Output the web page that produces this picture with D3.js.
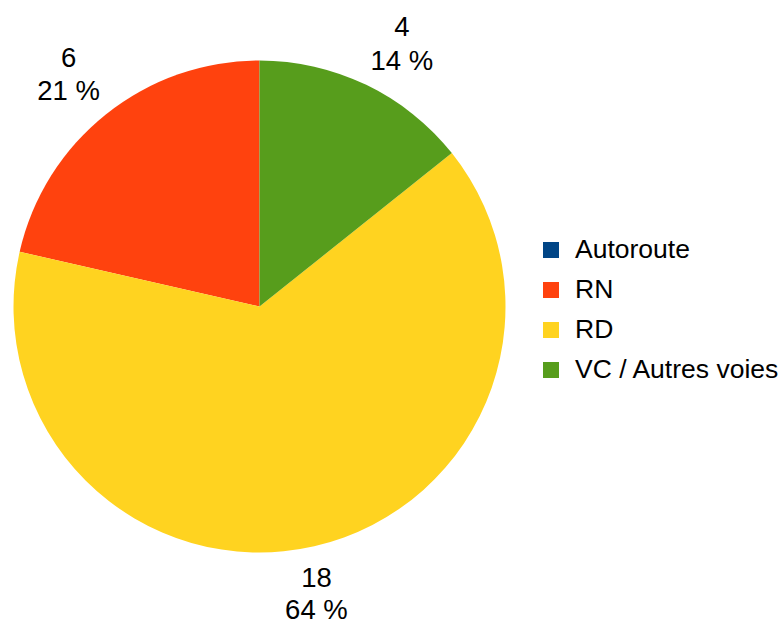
<!DOCTYPE html>
<html>
<head>
<meta charset="utf-8">
<script src="https://cdn.jsdelivr.net/npm/d3@7"></script>
<style>
  html, body { margin: 0; padding: 0; background: #ffffff; }
  svg { display: block; }
  text { font-family: "Liberation Sans", Arial, sans-serif; fill: #000; }
</style>
</head>
<body>
<svg id="chart" width="782" height="624"></svg>
<script>
const categories = ["Autoroute", "RN", "RD", "VC / Autres voies"];
const values = [0, 6, 18, 4];
const percentLabels = ["0 %", "21 %", "64 %", "14 %"];
const colors = ["#004586", "#ff420e", "#ffd320", "#579d1c"];

const W = 782, H = 624;
const cx = 259.5, cy = 306.5, radius = 246;
const labelFont = 27.5;
const legendFont = 26.5;

const svg = d3.select("#chart");
const g = svg.append("g").attr("transform", `translate(${cx},${cy})`);

const data = categories.map((c, i) => ({ cat: c, value: values[i], pct: percentLabels[i], color: colors[i] }));

// LibreOffice draws counter-clockwise from 12 o'clock
const pie = d3.pie().value(d => d.value).sort(null)
  .startAngle(0).endAngle(-2 * Math.PI);
const arcs = pie(data);

const arc = d3.arc().innerRadius(0).outerRadius(radius);

g.selectAll("path.slice")
  .data(arcs.filter(a => a.data.value > 0))
  .join("path")
  .attr("class", "slice")
  .attr("d", arc)
  .attr("fill", d => d.data.color);

// labels
const labelR = radius + 10;
const lineGap = 33.5;
arcs.filter(a => a.data.value > 0).forEach(a => {
  const mid = (a.startAngle + a.endAngle) / 2;
  const px = labelR * Math.sin(mid);
  const py = -labelR * Math.cos(mid);
  const lines = [String(a.data.value), a.data.pct];
  const t = g.append("g");
  const texts = lines.map(l => t.append("text")
    .attr("font-size", labelFont)
    .attr("text-anchor", "middle")
    .text(l));
  const w = d3.max(texts, n => n.node().getComputedTextLength());
  const s = Math.sin(mid);
  let centerX;
  if (Math.abs(s) < 0.3) centerX = px;
  else if (s > 0) centerX = px + w / 2;
  else centerX = px - w / 2;
  let baselines;
  if (Math.cos(mid) > 0) baselines = [py - 6 - lineGap, py - 6];
  else baselines = [py + 30.5, py + 30.5 + 32.5];
  texts.forEach((n, i) => n.attr("x", centerX).attr("y", baselines[i]));
});

// legend
const legend = svg.append("g").attr("transform", "translate(543,242)");
const rows = legend.selectAll("g.row").data(data).join("g")
  .attr("class", "row")
  .attr("transform", (d, i) => `translate(0,${i * 40})`);
rows.append("rect").attr("width", 16).attr("height", 16).attr("fill", d => d.color);
rows.append("text").attr("x", 32).attr("y", 16).attr("font-size", legendFont).text(d => d.cat);
</script>
</body>
</html>
